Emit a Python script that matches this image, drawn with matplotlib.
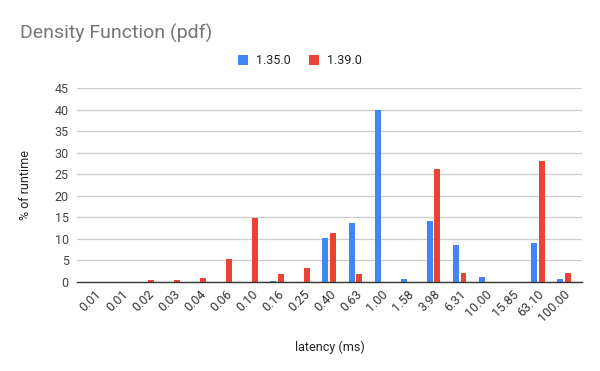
import matplotlib
matplotlib.use("Agg")
import matplotlib.pyplot as plt
import numpy as np

plt.rcParams['font.family'] = ['Roboto', 'DejaVu Sans']

categories = ["0.01", "0.01", "0.02", "0.03", "0.04", "0.06", "0.10", "0.16", "0.25", "0.40",
              "0.63", "1.00", "1.58", "3.98", "6.31", "10.00", "15.85", "63.10", "100.00"]
v135 = [0, 0, 0, 0, 0, 0, 0.1, 0.3, 0, 10.2, 13.7, 40.0, 0.7, 14.2, 8.6, 1.2, 0.1, 9.0, 0.7]
v139 = [0, 0, 0.5, 0.5, 1.0, 5.4, 14.9, 1.9, 3.2, 11.4, 1.9, 0, 0, 26.2, 2.2, 0.1, 0.1, 28.1, 2.2]
series_names = ["1.35.0", "1.39.0"]
colors = ["#4285F4", "#EA4335"]

fig = plt.figure(figsize=(6, 3.71), dpi=100)
ax = fig.add_axes([77 / 600, 1 - 282 / 371, 505 / 600, 194 / 371])

x = np.arange(len(categories))
w = 0.23
gap = 0.07
ax.bar(x - w / 2 - gap / 2, v135, width=w, color=colors[0], label=series_names[0], zorder=3)
ax.bar(x + w / 2 + gap / 2, v139, width=w, color=colors[1], label=series_names[1], zorder=3)

ax.set_ylim(0, 45)
ax.set_yticks(np.arange(0, 46, 5))
ax.set_xlim(-0.69, len(categories) - 1 + 0.7)
ax.set_xticks(x)
ax.set_xticklabels(categories, rotation=45, ha='right', rotation_mode='anchor', fontsize=9, color='#333333')
ax.tick_params(axis='y', labelsize=9, colors='#444444', length=0, pad=6)
ax.tick_params(axis='x', length=0, pad=4)
ax.grid(axis='y', color='#cccccc', linewidth=0.9, zorder=0)
for s in ['top', 'right', 'left']:
    ax.spines[s].set_visible(False)
ax.spines['bottom'].set_color('#333333')
ax.spines['bottom'].set_linewidth(1.0)
ax.spines['bottom'].set_zorder(4)

ax.set_ylabel("% of runtime", fontsize=9, color='#222222')
ax.yaxis.set_label_coords(-0.089, 0.5)
ax.set_xlabel("latency (ms)", fontsize=9, color='#222222', labelpad=12)

fig.text(20 / 600, 1 - 33 / 371, "Density Function (pdf)", fontsize=14, color='#757575', va='center', ha='left')

leg = fig.legend(loc='center', bbox_to_anchor=(0.50, 1 - 61 / 371), ncol=2, frameon=False,
                 fontsize=9, handlelength=0.8, handleheight=0.8, columnspacing=1.5, handletextpad=0.6)
for t in leg.get_texts():
    t.set_color('#222222')

fig.savefig("out.png", dpi=100, facecolor='white')
